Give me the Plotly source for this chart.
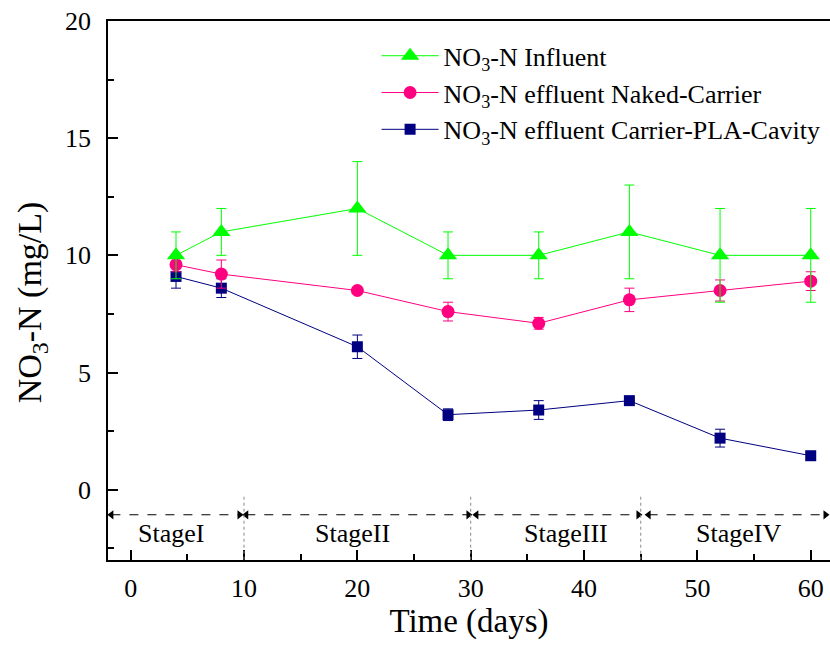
import plotly.graph_objects as go

days = [4, 8, 20, 28, 36, 44, 52, 60]
influent = [10, 11, 12, 10, 10, 11, 10, 10]
influent_err = [1, 1, 2, 1, 1, 2, 2, 2]
naked = [9.6, 9.2, 8.5, 7.6, 7.1, 8.1, 8.5, 8.9]
naked_err = [0.3, 0.6, 0, 0.4, 0.25, 0.5, 0.45, 0.4]
cavity = [9.1, 8.6, 6.1, 3.2, 3.4, 3.8, 2.2, 1.45]
cavity_err = [0.5, 0.4, 0.5, 0.25, 0.4, 0, 0.38, 0.15]

stage_names = ["StageI", "StageII", "StageIII", "StageIV"]
stage_label_x = [3.6, 19.6, 38.4, 53.6]
stage_arrow_start = [-1.7, 10.2, 30.5, 45.7]
stage_arrow_end = [9.6, 29.8, 44.8, 61.3]
stage_bounds = [10, 30, 45]
arrow_y = -1.07
label_y = -1.85

FONT = "Liberation Serif"
GREEN = "#00FF00"
PINK = "#FF0080"
NAVY = "#000080"

fig = go.Figure()

fig.add_trace(go.Scatter(
    x=days, y=cavity, mode="lines+markers",
    name="NO<sub>3</sub>-N effluent Carrier-PLA-Cavity",
    line=dict(color=NAVY, width=1),
    marker=dict(symbol="square", size=11, color=NAVY),
    error_y=dict(type="data", array=cavity_err, color=NAVY, thickness=1, width=5),
))
fig.add_trace(go.Scatter(
    x=days, y=naked, mode="lines+markers",
    name="NO<sub>3</sub>-N effluent Naked-Carrier",
    line=dict(color=PINK, width=1),
    marker=dict(symbol="circle", size=13, color=PINK),
    error_y=dict(type="data", array=naked_err, color=PINK, thickness=1, width=5),
))
fig.add_trace(go.Scatter(
    x=days, y=influent, mode="lines+markers",
    name="NO<sub>3</sub>-N Influent",
    line=dict(color=GREEN, width=1),
    marker=dict(symbol="triangle-up", size=16, color=GREEN),
    error_y=dict(type="data", array=influent_err, color=GREEN, thickness=1, width=5),
))

# stage arrows: dashed lines with triangle heads
for s, e in zip(stage_arrow_start, stage_arrow_end):
    fig.add_shape(type="line", x0=s, x1=e, y0=arrow_y, y1=arrow_y,
                  xref="x", yref="y", line=dict(color="black", width=1.2, dash="dash"))
fig.add_trace(go.Scatter(
    x=stage_arrow_start, y=[arrow_y] * len(stage_arrow_start), mode="markers",
    marker=dict(symbol="triangle-left", size=8, color="black"),
    showlegend=False, hoverinfo="skip"))
fig.add_trace(go.Scatter(
    x=stage_arrow_end, y=[arrow_y] * len(stage_arrow_end), mode="markers",
    marker=dict(symbol="triangle-right", size=8, color="black"),
    showlegend=False, hoverinfo="skip"))

for b in stage_bounds:
    fig.add_shape(type="line", x0=b, x1=b, y0=-0.3, y1=-3,
                  xref="x", yref="y", line=dict(color="#888888", width=1, dash="dot"))

for name, lx in zip(stage_names, stage_label_x):
    fig.add_annotation(x=lx, y=label_y, xref="x", yref="y", text=name, showarrow=False,
                       font=dict(family=FONT, size=26, color="black"))

fig.add_annotation(x=-0.137, y=8.0, xref="paper", yref="y",
                   text="NO<sub>3</sub>-N (mg/L)", textangle=-90, showarrow=False,
                   font=dict(family=FONT, size=34, color="black"))

fig.update_layout(
    width=830, height=646,
    margin=dict(l=108, r=0, t=21, b=86),
    plot_bgcolor="white", paper_bgcolor="white",
    font=dict(family=FONT, color="black"),
    showlegend=True,
    legend=dict(x=0.372, y=0.979, xanchor="left", yanchor="top",
                traceorder="reversed", itemwidth=57,
                font=dict(family=FONT, size=26, color="black"),
                bgcolor="rgba(0,0,0,0)", tracegroupgap=0),
    xaxis=dict(range=[-2, 61.7], tickvals=[0, 10, 20, 30, 40, 50, 60],
               ticks="inside", ticklen=10, tickwidth=1.5, tickcolor="black",
               minor=dict(dtick=5, ticks="inside", ticklen=6, tickwidth=1.5, tickcolor="black"),
               showline=True, linecolor="black", linewidth=1.5, mirror=True,
               showgrid=False, zeroline=False,
               tickfont=dict(family=FONT, size=26, color="black"),
               ticklabelstandoff=4,
               title=dict(text="Time (days)", font=dict(family=FONT, size=33, color="black"), standoff=6)),
    yaxis=dict(range=[-3, 20], tickvals=[0, 5, 10, 15, 20],
               ticks="inside", ticklen=10, tickwidth=1.5, tickcolor="black",
               minor=dict(dtick=2.5, ticks="inside", ticklen=6, tickwidth=1.5, tickcolor="black"),
               showline=True, linecolor="black", linewidth=1.5, mirror=False,
               showgrid=False, zeroline=False,
               tickfont=dict(family=FONT, size=26, color="black"),
               ticklabelstandoff=10),
)

fig.write_html("out.html")
